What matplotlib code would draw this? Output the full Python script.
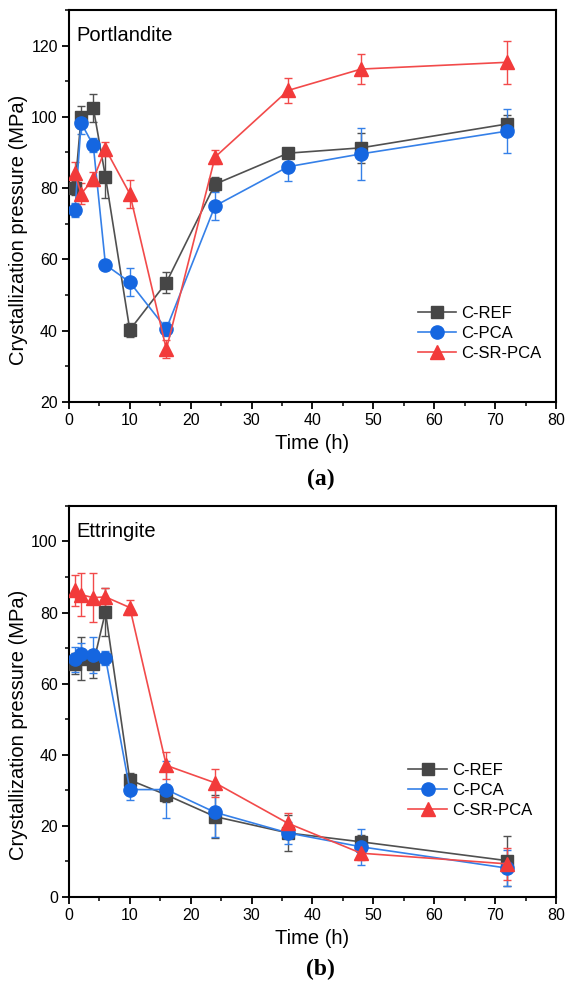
import matplotlib

matplotlib.use("Agg")
import matplotlib.pyplot as plt
from matplotlib.lines import Line2D
from matplotlib.ticker import MultipleLocator

plt.rcParams["font.family"] = ["Liberation Sans", "DejaVu Sans"]

# sampling times (h)
time_h = [1, 2, 4, 6, 10, 16, 24, 36, 48, 72]

# Portlandite crystallization pressure (MPa) and errors
port_ref = [80.1, 100.0, 102.5, 83.2, 40.2, 53.5, 81.1, 89.8, 91.3, 98.0]
port_ref_err = [2.0, 3.0, 4.0, 6.0, 2.0, 3.0, 2.0, 1.0, 4.3, 2.5]
port_pca = [73.8, 98.3, 92.0, 58.5, 53.6, 40.5, 75.0, 86.0, 89.6, 96.0]
port_pca_err = [2.0, 3.0, 2.0, 0.5, 4.0, 2.0, 4.0, 4.0, 7.3, 6.2]
port_sr = [84.2, 78.4, 82.5, 91.0, 78.4, 34.8, 88.7, 107.4, 113.4, 115.3]
port_sr_err = [3.0, 3.0, 2.0, 2.0, 4.0, 2.5, 2.0, 3.5, 4.3, 6.0]

# Ettringite crystallization pressure (MPa) and errors
ett_ref = [65.6, 67.0, 65.6, 80.2, 32.9, 28.7, 22.6, 18.0, 15.5, 10.2]
ett_ref_err = [3.0, 6.0, 4.0, 6.8, 2.0, 2.0, 6.0, 5.0, 2.0, 7.0]
ett_pca = [66.8, 68.4, 68.0, 67.3, 30.2, 30.2, 23.8, 18.0, 14.1, 8.1]
ett_pca_err = [3.5, 3.0, 5.0, 2.0, 3.0, 8.0, 7.0, 3.0, 5.0, 5.0]
ett_sr = [86.2, 85.0, 84.2, 84.4, 81.4, 37.0, 32.1, 20.7, 12.3, 9.3]
ett_sr_err = [4.3, 6.0, 6.8, 2.5, 2.0, 3.7, 4.0, 3.0, 2.0, 4.6]

series_names = ["C-REF", "C-PCA", "C-SR-PCA"]
markers = ["s", "o", "^"]
marker_sizes = [8.5, 9.5, 10]
face_colors = ["#464646", "#1566e0", "#f23a3a"]
line_colors = ["#505050", "#3580e8", "#f24a4a"]


def draw_panel(ax, data, label, ylim, legend_xy):
    handles = []
    for (vals, errs), name, mk, ms, fc, lc in zip(
        data, series_names, markers, marker_sizes, face_colors, line_colors
    ):
        ax.errorbar(
            time_h, vals, yerr=errs, color=lc, lw=1.2, elinewidth=1.0,
            capsize=3.2, capthick=1.0, marker=mk, ms=ms,
            mfc=fc, mec=fc, zorder=3,
        )
        handles.append(Line2D([], [], color=lc, lw=1.2, marker=mk, ms=ms,
                              mfc=fc, mec=fc, label=name))
    ax.set_xlim(0, 80)
    ax.set_ylim(*ylim)
    ax.xaxis.set_major_locator(MultipleLocator(10))
    ax.xaxis.set_minor_locator(MultipleLocator(5))
    ax.yaxis.set_major_locator(MultipleLocator(20))
    ax.yaxis.set_minor_locator(MultipleLocator(10))
    ax.tick_params(which="major", direction="out", length=5, width=1.3,
                   labelsize=11.5, pad=3)
    ax.tick_params(which="minor", direction="out", length=3, width=1.1)
    for s in ax.spines.values():
        s.set_linewidth(1.5)
    ax.set_xlabel("Time (h)", fontsize=14.5, va="center")
    ax.xaxis.set_label_coords(0.5, -0.105)
    ax.set_ylabel("Crystallization pressure (MPa)", fontsize=14.5, va="center")
    ax.yaxis.set_label_coords(-0.103, 0.44)
    ax.text(0.016, 0.96, label, transform=ax.transAxes, fontsize=14.5, va="top")
    ax.legend(
        handles=handles, loc="upper left", bbox_to_anchor=legend_xy,
        frameon=False, fontsize=12, handlelength=2.3, handletextpad=0.3,
        labelspacing=0.3, borderpad=0, borderaxespad=0,
    )


fig = plt.figure(figsize=(5.65, 9.9), dpi=100)
ax1 = fig.add_axes([0.122, 0.594, 0.862, 0.396])
ax2 = fig.add_axes([0.122, 0.094, 0.862, 0.395])

draw_panel(
    ax1,
    [(port_ref, port_ref_err), (port_pca, port_pca_err), (port_sr, port_sr_err)],
    "Portlandite", (20, 130), (0.716, 0.244),
)
draw_panel(
    ax2,
    [(ett_ref, ett_ref_err), (ett_pca, ett_pca_err), (ett_sr, ett_sr_err)],
    "Ettringite", (0, 110), (0.697, 0.342),
)

fig.text(0.568, 0.516, "(a)", ha="center", va="center", fontsize=17,
         fontweight="bold", family="Liberation Serif")
fig.text(0.568, 0.021, "(b)", ha="center", va="center", fontsize=17,
         fontweight="bold", family="Liberation Serif")

fig.savefig("out.png", dpi=100)
